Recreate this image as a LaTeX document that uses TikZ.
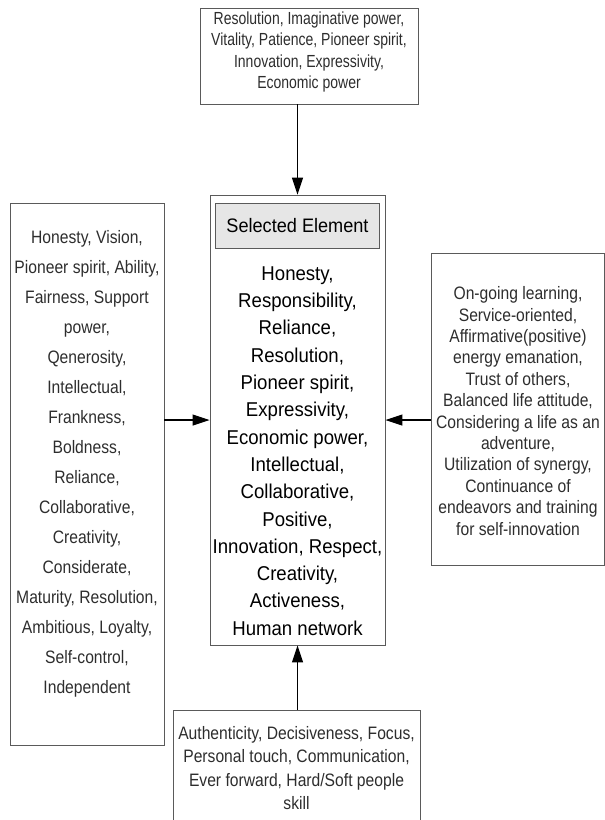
\documentclass[tikz,border=0pt]{standalone}
\usepackage{fontspec}
\setmainfont{Liberation Sans}
\newfontfamily\sidefont[FakeStretch=0.87]{Liberation Sans}
\newfontfamily\topfont[FakeStretch=0.80]{Liberation Sans}
\newfontfamily\selfont[FakeStretch=0.93]{Liberation Sans}
\usetikzlibrary{shapes,arrows.meta,positioning}
\definecolor{frame}{RGB}{90,90,90}
\definecolor{soft}{RGB}{45,45,45}
\definecolor{headfill}{RGB}{230,230,230}

\begin{document}
\begin{tikzpicture}[x=1pt,y=-1pt,
  side/.style={rectangle,draw=frame,line width=0.9pt,inner sep=0pt},
  sidetext/.style={align=center,text=soft,inner sep=0pt},
  sel/.style={rectangle,draw=frame,line width=0.9pt,minimum width=175pt,minimum height=450pt,inner sep=0pt},
  headbox/.style={rectangle,draw=frame,fill=headfill,line width=0.9pt,minimum width=164pt,minimum height=45pt,font=\selfont\fontsize{19.5}{22}\selectfont},
  arr/.style={-{Triangle[length=17pt,width=11pt]},line width=1.1pt}
]
  \useasboundingbox (0,0) rectangle (605,820);
  % centre box
  \node[sel] (main) at (297.5,420) {};
  \node[headbox,anchor=north] (head) at ([yshift=-8pt]main.north) {Selected Element};
  \node[align=center,inner sep=0pt,font=\selfont\fontsize{20}{27.3}\selectfont] (body) at (297.5,451)
    {Honesty,\\ Responsibility,\\ Reliance,\\ Resolution,\\ Pioneer spirit,\\ Expressivity,\\
     Economic power,\\ Intellectual,\\ Collaborative,\\ Positive,\\ Innovation, Respect,\\
     Creativity,\\ Activeness,\\ Human network};
  % boxes round it
  \node[side,minimum width=218pt,minimum height=96pt] (top) at (309,56) {};
  \node[sidetext,font=\topfont\fontsize{17.5}{21.6}\selectfont] (topText) at ([yshift=4pt]top.center)
    {Resolution, Imaginative power,\\ Vitality, Patience, Pioneer spirit,\\ Innovation, Expressivity,\\ Economic power};
  \node[side,minimum width=154pt,minimum height=542pt] (left) at (87,474) {};
  \node[sidetext,font=\sidefont\fontsize{18}{30}\selectfont] (leftText) at ([yshift=10pt]left.center)
    {Honesty, Vision,\\ Pioneer spirit, Ability,\\ Fairness, Support\\ power,\\ Qenerosity,\\ Intellectual,\\
     Frankness,\\ Boldness,\\ Reliance,\\ Collaborative,\\ Creativity,\\ Considerate,\\
     Maturity, Resolution,\\ Ambitious, Loyalty,\\ Self-control,\\ Independent};
  \node[side,minimum width=173pt,minimum height=312pt] (right) at (518,409) {};
  \node[sidetext,font=\sidefont\fontsize{18}{21.4}\selectfont] (rightText) at ([yshift=-2pt]right.center)
    {On-going learning,\\ Service-oriented,\\ Affirmative(positive)\\ energy emanation,\\ Trust of others,\\
     Balanced life attitude,\\ Considering a life as an\\ adventure,\\ Utilization of synergy,\\
     Continuance of\\ endeavors and training\\ for self-innovation};
  \node[side,minimum width=247pt,minimum height=110pt] (bottom) at (296.5,765) {};
  \node[sidetext,font=\sidefont\fontsize{18}{23.6}\selectfont] (bottomText) at ([yshift=-3pt]bottom.center)
    {Authenticity, Decisiveness, Focus,\\ Personal touch, Communication,\\ Ever forward, Hard/Soft people\\ skill};
  % arrows
  \draw[arr] (top.south -| main.north) -- (main.north);
  \draw[arr] (left.east |- main.west) -- (main.west);
  \draw[arr] (right.west |- main.east) -- (main.east);
  \draw[arr] (bottom.north -| main.south) -- (main.south);
\end{tikzpicture}
\end{document}
